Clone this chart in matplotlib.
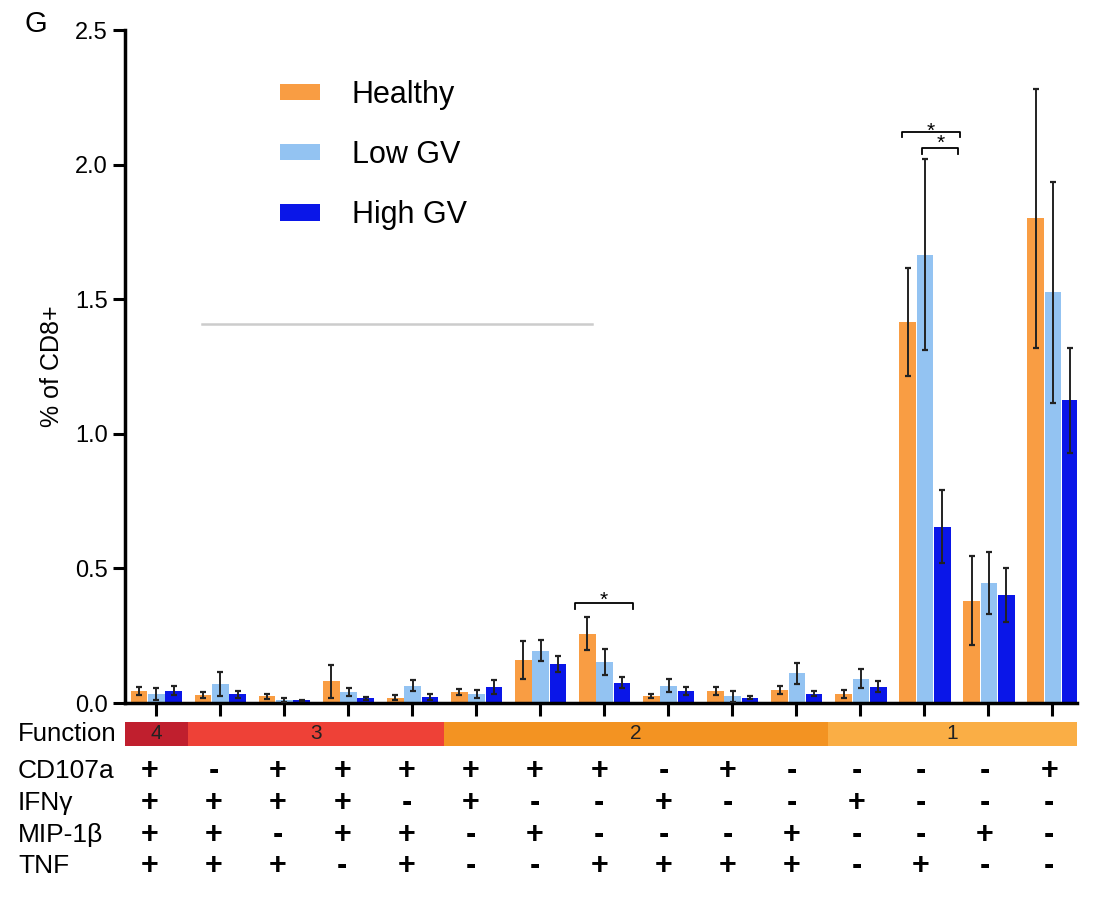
import matplotlib
matplotlib.use("Agg")
import matplotlib.pyplot as plt
import numpy as np
from matplotlib.patches import Rectangle

plt.rcParams['font.family'] = ['Liberation Sans', 'DejaVu Sans']

groups = ["Healthy", "Low GV", "High GV"]
colors = ["#F99D43", "#93C3F2", "#0A16E8"]

healthy = [0.045, 0.030, 0.025, 0.080, 0.020, 0.040, 0.160, 0.258, 0.025, 0.045, 0.048, 0.032, 1.415, 0.380, 1.800]
healthy_err = [0.015, 0.012, 0.010, 0.060, 0.008, 0.012, 0.070, 0.060, 0.008, 0.015, 0.015, 0.015, 0.200, 0.165, 0.480]
lowgv = [0.035, 0.070, 0.012, 0.040, 0.065, 0.035, 0.195, 0.152, 0.065, 0.025, 0.110, 0.090, 1.665, 0.445, 1.525]
lowgv_err = [0.022, 0.045, 0.008, 0.015, 0.020, 0.015, 0.040, 0.048, 0.025, 0.020, 0.040, 0.035, 0.355, 0.115, 0.410]
highgv = [0.045, 0.032, 0.010, 0.018, 0.022, 0.060, 0.145, 0.076, 0.045, 0.020, 0.035, 0.060, 0.655, 0.400, 1.125]
highgv_err = [0.017, 0.012, 0.003, 0.005, 0.010, 0.025, 0.030, 0.020, 0.015, 0.005, 0.010, 0.020, 0.135, 0.100, 0.195]

markers = ["CD107a", "IFNγ", "MIP-1β", "TNF"]
cd107a = ["+", "-", "+", "+", "+", "+", "+", "+", "-", "+", "-", "-", "-", "-", "+"]
ifng = ["+", "+", "+", "+", "-", "+", "-", "-", "+", "-", "-", "+", "-", "-", "-"]
mip1b = ["+", "+", "-", "+", "+", "-", "+", "-", "-", "-", "+", "-", "-", "+", "-"]
tnf = ["+", "+", "+", "-", "+", "-", "-", "+", "+", "+", "+", "-", "+", "-", "-"]

func_labels = ["4", "3", "2", "1"]
func_counts = [1, 4, 6, 4]
func_colors = ["#C01F2E", "#EE4137", "#F39322", "#FAAE45"]

yticks = [0.0, 0.5, 1.0, 1.5, 2.0, 2.5]

fig = plt.figure(figsize=(11.01, 9.02), dpi=100)
ax = fig.add_axes([0.1135, 0.2206, 0.8645, 0.7461])

n = len(healthy)
x = np.arange(n)
w = 0.26
off = 0.27
shift = 0.01
series = [(healthy, healthy_err), (lowgv, lowgv_err), (highgv, highgv_err)]
for k, ((vals, errs), c, lab) in enumerate(zip(series, colors, groups)):
    xs = x + (k - 1) * off + shift
    ax.bar(xs, vals, width=w, color=c, label=lab, zorder=2)
    ax.errorbar(xs, vals, yerr=errs, fmt='none', ecolor='#222222',
                elinewidth=1.4, capsize=2.5, capthick=1.6, zorder=3)

XMIN, XMAX = -0.48, 14.38
ax.set_xlim(XMIN, XMAX)
ax.set_ylim(0, 2.5)
ax.set_yticks(yticks)
ax.set_yticklabels([f"{t:.1f}" for t in yticks], fontsize=17)
ax.set_xticks(x)
ax.set_xticklabels([])
ax.tick_params(axis='both', direction='out', length=9, width=2.2, color='black')
for s in ['top', 'right']:
    ax.spines[s].set_visible(False)
for s in ['left', 'bottom']:
    ax.spines[s].set_linewidth(2.5)
ax.set_ylabel("% of CD8+", fontsize=18, labelpad=8)

# legend
leg = ax.legend(loc='upper left', bbox_to_anchor=(0.163, 0.926), frameon=False,
                fontsize=22, handlelength=1.3, handleheight=0.45,
                labelspacing=0.99, handletextpad=1.05, borderpad=0, borderaxespad=0)

# significance brackets
def bracket(xc, l, r, y, star_y):
    h = 0.022
    ax.plot([xc + l, xc + l, xc + r, xc + r], [y - h, y, y, y - h], color='black',
            lw=1.3, zorder=4)
    ax.text(xc + (l + r) / 2, star_y, "*", ha='center', va='baseline', fontsize=15)

bracket(7, -0.46, 0.45, 0.372, 0.362)
bracket(12, -0.35, 0.56, 2.123, 2.102)
bracket(12, -0.03, 0.53, 2.063, 2.057)

# thin gray line artifact
fig.add_artist(plt.Line2D([202 / 1101, 592 / 1101], [1 - 324 / 902, 1 - 324 / 902],
                          color='#CCCCCC', lw=1.8))

# function bar
tr = ax.get_xaxis_transform()
start = XMIN
edges = []
pos = 0
for cnt in func_counts:
    pos += cnt
    edges.append(pos - 0.5)
edges[-1] = XMAX
for lab, col, end, cnt in zip(func_labels, func_colors, edges, func_counts):
    ax.add_patch(Rectangle((start, -0.064), end - start, 0.036, transform=tr,
                           color=col, clip_on=False, lw=0))
    ax.text((start + end) / 2, -0.046, lab, transform=tr,
            ha='center', va='center', fontsize=15, color='#222222', clip_on=False)
    start = end
fig.text(18 / 1101, 0.2206 - 0.046 * 0.7461, "Function", ha='left', va='center',
         fontsize=18.5)

rows = [cd107a, ifng, mip1b, tnf]
row_y = [-0.101, -0.149, -0.196, -0.242]
for name, vals, yy in zip(markers, rows, row_y):
    fig.text(18 / 1101, 0.2206 + yy * 0.7461, name, ha='left', va='center', fontsize=19)
    for i, v in enumerate(vals):
        ax.text(i - 0.1 + 0.05 * i / 14, yy, v, transform=tr, ha='center', va='center',
                fontsize=22, fontweight='bold', clip_on=False)

fig.text(25 / 1101, 1 - 24 / 902, "G", ha='left', va='center', fontsize=21)

fig.savefig("out.png", dpi=100)
